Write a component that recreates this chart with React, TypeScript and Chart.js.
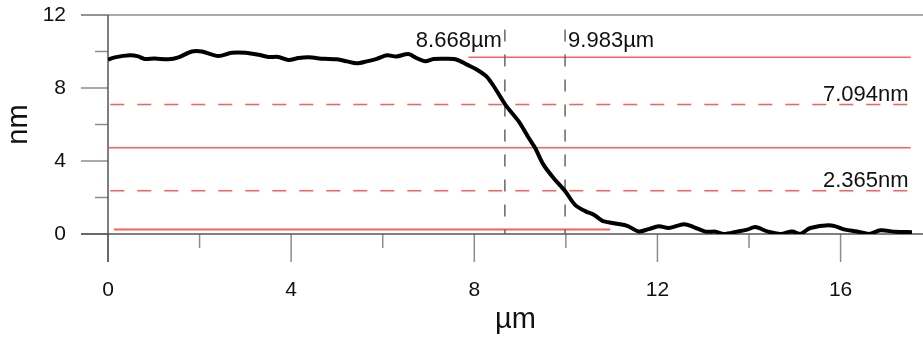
import React, { useEffect, useRef } from 'react';
import { Chart, registerables } from 'chart.js';

Chart.register(...registerables);

// Height profile (µm, nm)
const profileX = [0, 0.15, 0.48, 0.66, 0.8, 1.02, 1.32, 1.54, 1.83, 2.05, 2.41, 2.7, 3.0, 3.29, 3.5, 3.72, 3.94, 4.16, 4.38, 4.71, 5.0, 5.22, 5.43, 5.65, 5.87, 6.09, 6.3, 6.56, 6.74, 6.93, 7.11, 7.4, 7.62, 7.84, 8.06, 8.28, 8.45, 8.68, 8.97, 9.19, 9.33, 9.51, 9.73, 9.99, 10.2, 10.43, 10.61, 10.75, 10.83, 11.12, 11.34, 11.59, 11.81, 12.03, 12.25, 12.58, 12.79, 13.05, 13.27, 13.45, 13.74, 13.96, 14.14, 14.4, 14.69, 14.94, 15.12, 15.34, 15.8, 16.1, 16.36, 16.62, 16.87, 17.2, 17.56];
const profileY = [9.55, 9.68, 9.79, 9.73, 9.59, 9.62, 9.57, 9.68, 10.0, 10.0, 9.75, 9.93, 9.93, 9.82, 9.7, 9.7, 9.53, 9.64, 9.68, 9.6, 9.57, 9.46, 9.35, 9.46, 9.6, 9.79, 9.73, 9.86, 9.64, 9.46, 9.59, 9.6, 9.55, 9.28, 9.0, 8.6, 8.0, 7.08, 6.17, 5.26, 4.71, 3.8, 3.07, 2.33, 1.6, 1.24, 1.06, 0.8, 0.69, 0.56, 0.45, 0.14, 0.27, 0.42, 0.33, 0.53, 0.38, 0.13, 0.13, 0.0, 0.13, 0.24, 0.38, 0.14, 0.0, 0.14, 0.0, 0.33, 0.47, 0.24, 0.14, 0.0, 0.2, 0.12, 0.1];

const xTicks = [0, 4, 8, 12, 16];
const xMinorTicks = [2, 6, 10, 14];
const yTicks = [0, 4, 8, 12];
const yMinorTicks = [2, 6, 10];
const xMax = 17.8;
const yMax = 12;

// Reference levels (nm) and their x extents (µm)
const solidLevels = [9.68, 4.73, 0.24];
const solidStarts = [7.87, 0, 0.13];
const solidEnds = [17.53, 17.53, 10.97];
const dashedLevels = [7.094, 2.365];
const dashedStart = 0.05;
const dashedEnd = 17.53;

// Cursors (µm) and their vertical extent (nm)
const cursorX = [8.668, 9.983];
const cursorTop = 11.2;

const FONT = '"Liberation Sans", Arial, Helvetica, sans-serif';

const decorPlugin = {
  id: 'decor',
  beforeDatasetsDraw(chart: any) {
    const { ctx, chartArea, scales } = chart;
    const xs = scales.x;
    const ys = scales.y;
    const x0 = xs.getPixelForValue(0);
    const y0 = ys.getPixelForValue(0);
    const yTop = ys.getPixelForValue(yMax);
    const seg = (a: number, b: number, c: number, d: number) => {
      ctx.beginPath();
      ctx.moveTo(a, b);
      ctx.lineTo(c, d);
      ctx.stroke();
    };
    ctx.save();
    ctx.lineWidth = 1.5;
    ctx.strokeStyle = '#8c8c8c';
    seg(x0 - 27, yTop, chartArea.right, yTop);
    yTicks.forEach((v) => seg(x0 - 27, ys.getPixelForValue(v), x0, ys.getPixelForValue(v)));
    yMinorTicks.forEach((v) => seg(x0 - 13, ys.getPixelForValue(v), x0, ys.getPixelForValue(v)));
    xTicks.forEach((v) => seg(xs.getPixelForValue(v), y0, xs.getPixelForValue(v), y0 + 28));
    xMinorTicks.forEach((v) => seg(xs.getPixelForValue(v), y0, xs.getPixelForValue(v), y0 + 14));
    ctx.strokeStyle = '#555';
    seg(x0, yTop, x0, y0 + 28);
    seg(x0 - 27, y0, chartArea.right, y0);
    ctx.restore();
  },
  afterDraw(chart: any) {
    const { ctx, scales } = chart;
    const xs = scales.x;
    const ys = scales.y;
    ctx.save();
    ctx.fillStyle = '#111';
    ctx.font = `22px ${FONT}`;
    ctx.textBaseline = 'alphabetic';
    const base = ys.getPixelForValue(cursorTop) + 17;
    ctx.textAlign = 'right';
    ctx.fillText(`${cursorX[0].toFixed(3)}µm`, xs.getPixelForValue(cursorX[0]) - 3, base);
    ctx.textAlign = 'left';
    ctx.fillText(`${cursorX[1].toFixed(3)}µm`, xs.getPixelForValue(cursorX[1]) + 3, base);
    ctx.textAlign = 'right';
    dashedLevels.forEach((v) => {
      ctx.fillText(`${v.toFixed(3)}nm`, xs.getPixelForValue(dashedEnd) - 2, ys.getPixelForValue(v) - 4);
    });
    ctx.restore();
  },
};

export default function App() {
  const canvasRef = useRef<HTMLCanvasElement | null>(null);

  useEffect(() => {
    document.body.style.margin = '0';
    const canvas = canvasRef.current;
    if (!canvas) return;

    const red = 'rgba(255, 85, 85, 0.95)';
    const datasets: any[] = [];

    solidLevels.forEach((lv, i) => {
      datasets.push({
        data: [{ x: solidStarts[i], y: lv }, { x: solidEnds[i], y: lv }],
        borderColor: red,
        borderWidth: i === 2 ? 2 : 1.5,
        pointRadius: 0,
        order: 3,
      });
    });
    dashedLevels.forEach((lv) => {
      datasets.push({
        data: [{ x: dashedStart, y: lv }, { x: dashedEnd, y: lv }],
        borderColor: red,
        borderWidth: 1.5,
        borderDash: [14, 13],
        pointRadius: 0,
        order: 3,
      });
    });
    cursorX.forEach((cx) => {
      datasets.push({
        data: [{ x: cx, y: cursorTop }, { x: cx, y: 0 }],
        borderColor: '#666',
        borderWidth: 1.5,
        borderDash: [12, 13],
        pointRadius: 0,
        order: 2,
      });
    });
    datasets.push({
      data: profileX.map((x, i) => ({ x, y: profileY[i] })),
      borderColor: '#000',
      borderWidth: 4,
      pointRadius: 0,
      tension: 0.3,
      order: 1,
    });

    const chart = new Chart(canvas, {
      type: 'line',
      data: { datasets },
      plugins: [decorPlugin],
      options: {
        animation: false,
        responsive: false,
        devicePixelRatio: 1,
        layout: { padding: { top: 15, left: 0, right: 0, bottom: 0 } },
        plugins: { legend: { display: false }, tooltip: { enabled: false } },
        scales: {
          x: {
            type: 'linear',
            min: 0,
            max: xMax,
            grid: { display: false, drawTicks: false },
            border: { display: false },
            afterBuildTicks: (s: any) => {
              s.ticks = xTicks.map((v) => ({ value: v }));
            },
            afterFit: (s: any) => {
              s.height = 103;
              s.paddingLeft = 0;
              s.paddingRight = 0;
              s.paddingTop = 0;
              s.paddingBottom = 0;
            },
            ticks: {
              color: '#111',
              font: { family: FONT, size: 21 },
              padding: 44,
              maxRotation: 0,
              autoSkip: false,
            },
            title: {
              display: true,
              text: 'µm',
              color: '#111',
              font: { family: FONT, size: 29 },
              padding: { top: 0, bottom: 0 },
            },
          },
          y: {
            type: 'linear',
            min: 0,
            max: yMax,
            grid: { display: false, drawTicks: false },
            border: { display: false },
            afterBuildTicks: (s: any) => {
              s.ticks = yTicks.map((v) => ({ value: v }));
            },
            afterFit: (s: any) => {
              s.width = 108;
              s.paddingTop = 0;
              s.paddingBottom = 0;
              s.paddingLeft = 0;
              s.paddingRight = 0;
            },
            ticks: {
              color: '#111',
              font: { family: FONT, size: 21 },
              padding: 42,
              autoSkip: false,
            },
            title: {
              display: true,
              text: 'nm',
              color: '#111',
              font: { family: FONT, size: 29 },
              padding: { top: 2, bottom: 0 },
            },
          },
        },
      },
    });
    return () => chart.destroy();
  }, []);

  return (
    <div style={{ width: 923, height: 337, position: 'relative' }}>
      <canvas ref={canvasRef} width={923} height={337} />
    </div>
  );
}
